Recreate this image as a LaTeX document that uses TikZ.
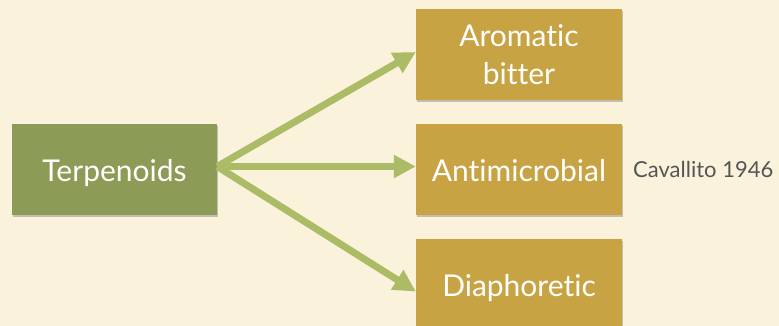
\documentclass[tikz,border=0pt]{standalone}
\usepackage{fontspec}
\setmainfont{Lato}[Ligatures=NoCommon]
\usetikzlibrary{arrows.meta,shadows}
\definecolor{bgc}{HTML}{FAF2DA}
\definecolor{greenbox}{HTML}{8C9C57}
\definecolor{goldbox}{HTML}{C8A344}
\definecolor{arrowc}{HTML}{ACBB66}
\definecolor{refc}{HTML}{555555}
\tikzset{
  box/.style={rectangle, inner sep=0pt, minimum width=206pt, minimum height=91pt,
    text=white, font=\fontsize{30}{38}\selectfont, align=center,
    drop shadow={shadow xshift=1pt, shadow yshift=-2pt, opacity=0.45}},
  oneline/.style={text height=24pt, text depth=0pt},
  greenb/.style={box, fill=greenbox},
  goldb/.style={box, fill=goldbox},
  conn/.style={draw=arrowc, line width=7pt, -{Triangle[length=22pt,width=22pt]}},
  reftext/.style={inner sep=0pt, text=refc, font=\fontsize{22}{26}\selectfont}
}
\begin{document}
\begin{tikzpicture}[x=1pt,y=-1pt]
\fill[bgc] (0,0) rectangle (779,326);
\useasboundingbox (0,0) rectangle (779,326);
\node[greenb, oneline, minimum width=205pt] (terp) at (114.5,169.5) {Terpenoids};
\node[goldb] (arom) at (519,55) {Aromatic\\bitter};
\node[goldb, oneline] (anti) at (519,169.5) {Antimicrobial};
\node[goldb, oneline] (diap) at (519,284.5) {Diaphoretic};
\node[reftext, anchor=base west] (cav) at (633,178) {Cavallito 1946};
\coordinate (src) at ([yshift=3pt]terp.east);
\draw[conn] (src) -- ([yshift=3pt]arom.west);
\draw[conn] (src) -- ([yshift=3pt]anti.west);
\draw[conn] (src) -- ([yshift=-7pt]diap.west);
\end{tikzpicture}
\end{document}
